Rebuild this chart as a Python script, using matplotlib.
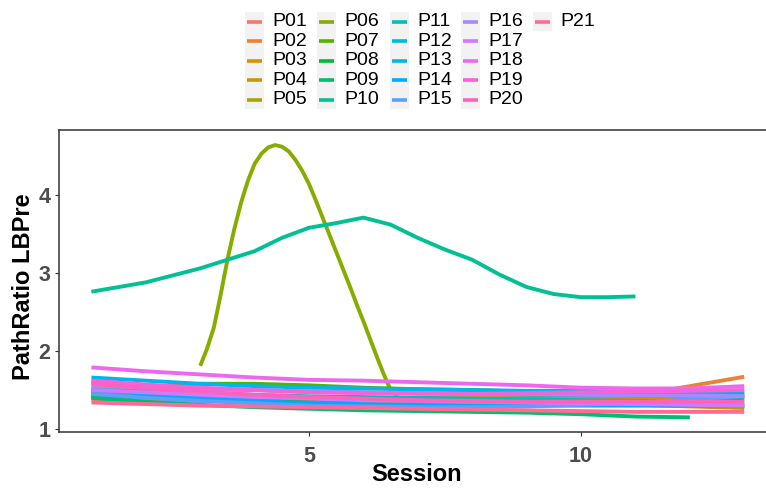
import numpy as np
import matplotlib
matplotlib.use("Agg")
import matplotlib.pyplot as plt
from matplotlib.patches import Rectangle
from matplotlib.lines import Line2D

plt.rcParams['font.family'] = ['Liberation Sans', 'DejaVu Sans']

sessions = [1, 2, 3, 4, 5, 6, 7, 8, 9, 10, 11, 12, 13]

participants = ["P01", "P02", "P03", "P04", "P05", "P06", "P07", "P08", "P09", "P10", "P11",
                "P12", "P13", "P14", "P15", "P16", "P17", "P18", "P19", "P20", "P21"]

p01 = [1.38, 1.37, 1.36, 1.35, 1.34, 1.33, 1.33, 1.32, 1.32, 1.31, 1.31, 1.30, 1.30]
p02 = [1.45, 1.44, 1.43, 1.42, 1.41, 1.40, 1.40, 1.40, 1.40, 1.40, 1.43, 1.55, 1.67]
p03 = [1.48, 1.46, 1.44, 1.42, 1.40, 1.39, 1.38, 1.38, 1.38, 1.39, 1.40, 1.41, 1.42]
p04 = [1.40, 1.39, 1.38, 1.37, 1.36, 1.36, 1.35, 1.35, 1.34, 1.33, 1.31, 1.29, 1.27]
p05 = [1.44, 1.42, 1.40, 1.39, 1.38, 1.37, 1.37, 1.38, 1.38, 1.37, 1.34, 1.31, 1.28]
p06_x = [3.0, 3.125, 3.25, 3.375, 3.5, 3.625, 3.75, 3.875, 4.0, 4.125, 4.25, 4.375, 4.5,
         4.625, 4.75, 4.875, 5.0, 5.125, 5.25, 5.375, 5.5, 5.625, 5.75, 5.875, 6.0, 6.125,
         6.25, 6.375, 6.5, 6.75, 7.0, 7.25, 7.5]
p06 = [1.81, 2.03, 2.30, 2.72, 3.17, 3.56, 3.90, 4.18, 4.40, 4.53, 4.61, 4.64, 4.62,
       4.56, 4.45, 4.31, 4.14, 3.93, 3.71, 3.49, 3.27, 3.05, 2.83, 2.60, 2.38, 2.15,
       1.92, 1.70, 1.50, 1.32, 1.30, 1.34, 1.38]
p07 = [1.47, 1.52, 1.58, 1.58, 1.56, 1.53, 1.51, 1.50, 1.48, 1.47, 1.46, 1.45, 1.45]
p08 = [1.42, 1.41, 1.40, 1.39, 1.38, 1.37, 1.36, 1.36, 1.35, 1.35, 1.35, 1.36, 1.40]
p09 = [1.40, 1.35, 1.31, 1.28, 1.26, 1.24, 1.23, 1.22, 1.21, 1.19, 1.16, 1.15]
p10_x = [1, 1.5, 2, 2.5, 3, 3.5, 4, 4.5, 5, 5.5, 6, 6.5, 7, 7.5, 8, 8.5, 9, 9.5, 10, 10.5, 11]
p10 = [2.76, 2.82, 2.88, 2.97, 3.06, 3.17, 3.28, 3.45, 3.58, 3.64, 3.71, 3.62, 3.45, 3.30, 3.17,
       2.98, 2.82, 2.73, 2.69, 2.69, 2.70]
p11 = [1.52, 1.49, 1.46, 1.44, 1.42, 1.41, 1.40, 1.39, 1.38, 1.37, 1.36, 1.36, 1.35]
p12 = [1.60, 1.56, 1.52, 1.50, 1.48, 1.47, 1.46, 1.45, 1.44, 1.44, 1.43, 1.43, 1.42]
p13 = [1.66, 1.62, 1.58, 1.55, 1.53, 1.52, 1.51, 1.50, 1.49, 1.49, 1.48, 1.48, 1.48]
p14 = [1.50, 1.45, 1.40, 1.36, 1.33, 1.32, 1.31, 1.30, 1.30, 1.30, 1.30, 1.30, 1.30]
p15 = [1.45, 1.40, 1.36, 1.33, 1.30, 1.29, 1.28, 1.28, 1.29, 1.31, 1.34, 1.38, 1.42]
p16 = [1.55, 1.53, 1.51, 1.50, 1.48, 1.47, 1.46, 1.45, 1.45, 1.44, 1.43, 1.43, 1.42]
p17 = [1.50, 1.47, 1.44, 1.41, 1.39, 1.37, 1.36, 1.35, 1.34, 1.33, 1.32, 1.31, 1.30]
p18 = [1.79, 1.74, 1.70, 1.66, 1.63, 1.62, 1.60, 1.58, 1.56, 1.53, 1.52, 1.52, 1.55]
p19 = [1.62, 1.57, 1.53, 1.50, 1.47, 1.46, 1.45, 1.45, 1.46, 1.47, 1.48, 1.49, 1.50]
p20 = [1.58, 1.52, 1.48, 1.44, 1.41, 1.39, 1.37, 1.36, 1.35, 1.35, 1.35, 1.35, 1.35]
p21 = [1.34, 1.32, 1.30, 1.29, 1.28, 1.27, 1.26, 1.25, 1.24, 1.23, 1.22, 1.22, 1.22]

series = [
    (sessions, p01), (sessions, p02), (sessions, p03), (sessions, p04), (sessions, p05),
    (p06_x, p06), (sessions, p07), (sessions, p08), (sessions[:12], p09), (p10_x, p10),
    (sessions, p11), (sessions, p12), (sessions, p13), (sessions, p14), (sessions, p15),
    (sessions, p16), (sessions, p17), (sessions, p18), (sessions, p19), (sessions, p20),
    (sessions, p21),
]


def hcl_to_hex(h, c=100.0, l=65.0):
    # polar Luv -> sRGB, same as R's hcl()
    xn, yn, zn = 95.047, 100.0, 108.883
    un = 4 * xn / (xn + 15 * yn + 3 * zn)
    vn = 9 * yn / (xn + 15 * yn + 3 * zn)
    u = c * np.cos(np.radians(h))
    v = c * np.sin(np.radians(h))
    y = yn * ((l + 16) / 116) ** 3
    up = u / (13 * l) + un
    vp = v / (13 * l) + vn
    x = y * 9 * up / (4 * vp)
    z = y * (12 - 3 * up - 20 * vp) / (4 * vp)
    xyz = np.array([x, y, z]) / 100
    m = np.array([[3.2404542, -1.5371385, -0.4985314],
                  [-0.9692660, 1.8760108, 0.0415560],
                  [0.0556434, -0.2040259, 1.0572252]])
    rgb = m @ xyz
    rgb = np.where(rgb <= 0.0031308, 12.92 * rgb, 1.055 * np.power(np.clip(rgb, 0, None), 1 / 2.4) - 0.055)
    rgb = np.clip(rgb, 0, 1)
    return matplotlib.colors.to_hex(rgb)


n = len(participants)
colors = [hcl_to_hex(15 + i * 360 / n) for i in range(n)]

W, H = 766, 490
fig = plt.figure(figsize=(W / 100, H / 100), dpi=100)
ax = fig.add_axes([59 / W, 1 - 432 / H, (W - 59) / W, 302 / H])

for (xs, ys), col in zip(series, colors):
    ax.plot(xs, ys, color=col, lw=2.8, solid_capstyle='butt', solid_joinstyle='round')

ax.set_xlim(0.404, 13.40)
ax.set_ylim(0.962, 4.833)
ax.set_xticks([5, 10])
ax.set_yticks([1, 2, 3, 4])
ax.spines['right'].set_visible(False)
for s in ['left', 'bottom', 'top']:
    ax.spines[s].set_color('#333333')
    ax.spines[s].set_linewidth(1.1)
ax.tick_params(axis='both', length=3, width=0.8, color='#333333', labelcolor='#4D4D4D',
               labelsize=15.5)
ax.tick_params(axis='x', pad=7)
ax.tick_params(axis='y', pad=3)
for lab in ax.get_xticklabels() + ax.get_yticklabels():
    lab.set_fontweight('bold')

ax.set_xlabel('Session', fontsize=17, fontweight='bold')
ax.set_ylabel('PathRatio LBPre', fontsize=17, fontweight='bold')
ax.xaxis.set_label_coords(0.506, -0.103)
ax.yaxis.set_label_coords(-0.034, 0.48)

# legend drawn by hand: 5 rows per column, grey key boxes
col_x = [245, 317, 390, 461, 533]
row_h = 19.5
top = 12
for i, (name, col) in enumerate(zip(participants, colors)):
    c, r = divmod(i, 5)
    x0 = col_x[c]
    yc = top + row_h * r + row_h / 2
    fig.add_artist(Rectangle((x0 / W, 1 - (yc + row_h / 2) / H), 19 / W, row_h / H,
                             transform=fig.transFigure, facecolor='#F2F2F2', edgecolor='none'))
    fig.add_artist(Line2D([(x0 + 2) / W, (x0 + 17) / W], [1 - yc / H, 1 - yc / H],
                          transform=fig.transFigure, color=col, lw=2.6, solid_capstyle='butt'))
    fig.text((x0 + 27) / W, 1 - yc / H, name, fontsize=14, va='center', ha='left')

fig.savefig('out.png', dpi=100)
